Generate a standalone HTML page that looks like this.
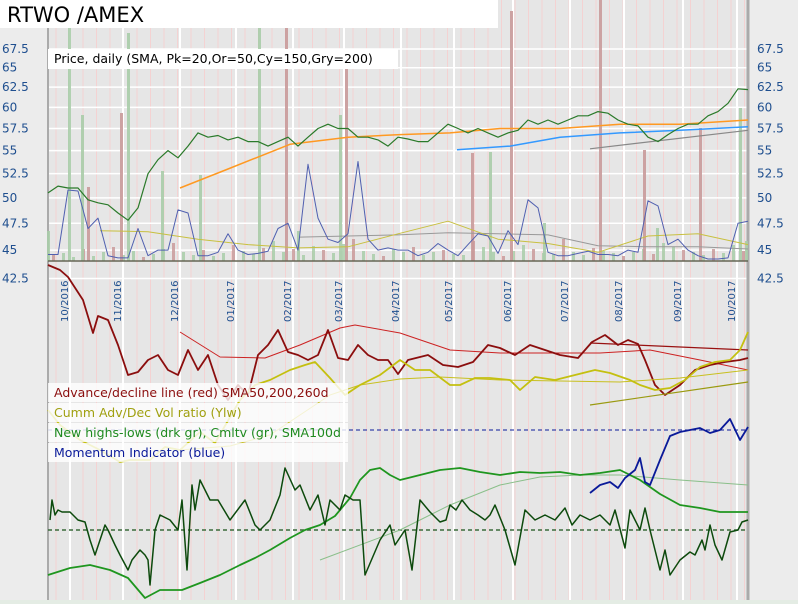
<!DOCTYPE html>
<html><head><meta charset="utf-8"><style>
body{margin:0;width:798px;height:604px;overflow:hidden;background:#ececec;font-family:"DejaVu Sans","Liberation Sans",sans-serif}
svg{display:block}
</style></head><body>
<svg id="c" width="798" height="604" xmlns="http://www.w3.org/2000/svg" font-family="DejaVu Sans, Liberation Sans, sans-serif"></svg>
<script>
// ---- data (t = time units 0..700 across the chart, v = values) ----
const priceTicks=[67.5,65,62.5,60,57.5,55,52.5,50,47.5,45,42.5];
const monthLabels=["10/2016","11/2016","12/2016","01/2017","02/2017","03/2017","04/2017","05/2017","06/2017","07/2017","08/2017","09/2017","10/2017"];
const monthT=[22,75,132,188,245,296,353,406,465,522,576,635,689];
const priceT=[0,10,20,30,40,50,60,70,80,90,100,110,120,130,140,150,160,170,180,190,200,210,220,230,240,250,260,270,280,290,300,310,320,330,340,350,360,370,380,390,400,410,420,430,440,450,460,470,480,490,500,510,520,530,540,550,560,570,580,590,600,610,620,630,640,650,660,670,680,690,700];
const priceV=[50.5,51.2,51,51,49.8,49.5,49.3,48.5,47.8,49,52.5,54,55,54.2,55.5,57,56.5,56.7,56.2,56.5,56,56,55.5,56,56.5,55.5,56.5,57.5,58,57.5,57.5,56.5,56.5,56.2,55.5,56.5,56.3,56,56,57,58,57.5,57,57.5,57,56.5,57,57.3,58.5,58,58.5,58,58.5,59,59,59.5,59.3,58.5,58,57.8,56.5,56,56.8,57.5,58,58,59,59.5,60.5,62.3,62.2];
const sma150T=[132,180,242,300,352,402,452,512,572,632,700];
const sma150V=[51,53,55.7,56.5,56.8,57,57.5,57.5,58,58,58.5];
const sma200T=[409,462,512,572,632,700];
const sma200V=[55.1,55.5,56.5,57,57.3,57.7];
const trendT=[542,700];const trendV=[55.2,57.3];
const momT=[0,10,20,30,40,50,60,70,80,90,100,110,120,130,140,150,160,170,180,190,200,210,220,230,240,250,260,270,280,290,300,310,320,330,340,350,360,370,380,390,400,410,420,430,440,450,460,470,480,490,500,510,520,530,540,550,560,570,580,590,600,610,620,630,640,650,660,670,680,690,700];
const momV=[44.6,44.6,50.8,50.7,47,48,44.5,44.3,44.3,47,44.5,45,45,48.8,48.5,44.5,44.5,44.8,46.5,45,44.6,44.7,44.9,47,47.5,45,53.5,48,46,45.7,46.5,53.8,46,45,45.2,45,45,44.5,44.8,45.6,45,44.5,45.5,46.5,46.3,44.7,46.8,45.5,49.8,49,44.8,44.5,44.5,44.7,44.9,44.6,44.6,44.5,45,44.8,49.7,49.2,45.5,46,45,44.5,44.2,44.2,44.3,47.5,47.7];
const yelT=[52,100,150,200,250,300,350,400,450,500,550,600,650,700];
const yelV=[46.8,46.7,46,45.5,45.2,45.3,46.5,47.7,46,45.6,44.8,46.3,46.5,45.5];
const grayT=[252,300,350,400,450,500,550,600,650,700];
const grayV=[46.2,46.3,46.4,46.6,46.5,46.4,45.4,45.3,45.3,45.1];
const volT=[0,21,34,40,73,80,114,152,211,238,250,292,298,424,442,463,496,552,596,609,652,692,698];
const volH=[30,300,146,74,148,228,90,86,250,300,30,146,200,108,109,250,38,300,111,33,133,153,20];
const volUp=[1,1,1,0,0,1,1,1,1,0,1,1,0,0,1,0,1,0,0,1,0,1,1];
const smallVolH=[6,8,4,12,5,9,14,6,10,4,7,12,18,9,6,11,5,8,16,10,7,13,20,9,12,6,15,11,8,17,22,10,7,5,12,9,14,6,9,11,7,6,20,14,9,5,10,16,12,8,7,22,9,6,13,10,8,5,9,12,7,18,14,11,9,6,12,8,16,10];
const adT=[0,12,20,35,45,50,60,70,80,90,100,110,120,130,140,150,160,170,180,190,200,210,220,230,240,250,260,270,280,290,300,310,320,330,340,350,360,380,395,410,425,440,452,467,482,497,512,530,544,557,570,580,590,597,607,617,632,647,662,677,692,700];
const adV=[335,330,323,300,267,284,280,255,225,228,240,245,230,225,250,230,245,215,200,215,205,245,255,270,248,245,240,245,270,242,240,255,245,240,240,226,240,245,235,233,238,255,252,245,255,250,245,242,258,265,255,260,256,240,215,205,215,230,235,238,240,242];
const adSmaT=[132,172,217,252,292,307,352,402,452,502,552,602,652,700];
const adSmaV=[268,243,242,255,272,275,267,250,247,247,247,250,240,230];
const ad2T=[542,700];const ad2V=[257,250];
const cavT=[0,12,32,52,72,82,102,117,132,152,167,192,207,222,242,257,267,282,297,312,332,352,367,382,402,412,427,442,462,472,487,507,527,547,562,582,592,607,622,637,652,667,682,692,700];
const cavV=[190,175,160,150,138,140,140,153,150,168,157,200,215,220,230,235,238,222,205,215,225,240,230,230,215,215,222,222,220,210,223,220,225,230,227,220,215,210,212,220,233,238,240,250,268];
const cavSmaT=[132,182,222,282,312,352,392,452,512,572,632,700];
const cavSmaV=[150,154,165,205,215,221,223,220,219,218,222,230];
const olivT=[542,700];const olivV=[195,218];
const blueT=[542,552,562,570,577,587,592,597,602,612,622,632,642,652,662,672,682,692,700];
const blueV=[107,115,118,112,122,130,142,118,115,140,164,168,170,172,167,170,181,160,173];
const cumT=[0,22,42,62,80,97,112,134,152,172,192,207,222,242,257,272,287,302,312,322,332,342,352,372,392,412,432,452,472,492,512,532,552,572,592,612,632,652,672,700];
const cumV=[25,32,35,30,22,2,10,10,17,25,35,42,50,62,70,75,84,102,120,130,132,125,120,125,130,132,128,125,128,127,128,125,127,130,120,106,95,92,88,88];
const cumSmaT=[272,352,402,452,492,532,572,632,700];
const cumSmaV=[40,70,95,115,123,125,125,120,115];
const nhlT=[2,4,7,10,14,22,30,37,42,47,52,57,60,67,72,80,84,92,97,100,102,107,112,122,130,134,139,144,147,152,162,170,182,197,207,212,222,232,237,247,252,262,270,277,282,292,297,305,312,317,332,342,347,357,364,372,382,392,398,402,408,414,422,430,437,442,447,457,467,477,487,497,507,517,524,532,542,552,562,567,577,582,587,592,597,602,612,617,622,632,642,647,654,657,662,667,674,682,690,694,700];
const nhlV=[80,100,85,90,88,88,80,78,60,45,60,75,70,55,45,30,40,50,45,40,15,70,85,80,70,100,30,115,90,120,100,100,80,100,75,70,80,105,132,110,115,90,105,75,100,90,105,100,100,25,60,75,55,70,30,100,88,78,80,95,90,100,90,85,80,85,95,70,35,90,80,85,80,92,75,85,80,85,75,90,52,90,80,70,92,70,30,50,25,40,48,45,60,50,75,55,40,68,70,78,80];

const svg=document.getElementById('c');
const NS='http://www.w3.org/2000/svg';
function el(tag,attrs,parent){const e=document.createElementNS(NS,tag);for(const k in attrs)e.setAttribute(k,attrs[k]);(parent||svg).appendChild(e);return e;}
const X0=48,X1=748;
const xS=t=>X0+t;
const yP=p=>49+(Math.log(67.5)-Math.log(p))*496;
const yL=v=>600-v;
function line(ts,vs,ys,stroke,w,name,extra){
  const d=ts.map((t,i)=>(i?'L':'M')+xS(t).toFixed(1)+','+ys(vs[i]).toFixed(1)).join('');
  const p=el('path',Object.assign({d:d,fill:'none',stroke:stroke,'stroke-width':w,'stroke-linejoin':'round'},extra||{}));
  
  
  return p;
}
const bg=el('rect',{x:X0,y:0,width:700,height:600,fill:'#e6e6e6'});


el('rect',{x:0,y:600,width:798,height:4,fill:'#e4ece4'});
for(let t=8;t<700;t+=13.5){const l=el('line',{x1:xS(t),x2:xS(t),y1:0,y2:600,stroke:'#f4d2d2','stroke-width':1});
}
monthT.forEach(t=>{const l=el('line',{x1:xS(t),x2:xS(t),y1:0,y2:600,stroke:'#ffffff','stroke-width':2});
});
priceTicks.forEach(p=>{const y=yP(p);
 const g=el('line',{x1:X0,x2:X1,y1:y,y2:y,stroke:'#ffffff','stroke-width':1.5});
 
 const a=el('text',{x:2,y:y+4,'font-size':12,fill:'#1f4f8f'});a.textContent=p;
 
 const b=el('text',{x:757,y:y+4,'font-size':12,fill:'#1f4f8f'});b.textContent=p;
 
});
el('line',{x1:X0,x2:X0,y1:28,y2:600,stroke:'#aaaaaa','stroke-width':2});
el('line',{x1:X1,x2:X1,y1:0,y2:600,stroke:'#aaaaaa','stroke-width':3});
smallVolH.forEach((h,i)=>{const t=i*10+4;const r=el('rect',{x:xS(t),y:261-h,width:3,height:h,fill:(i%3==0?'#c99a9a':'#a8cca8'),opacity:0.85});
 });
volT.forEach((t,i)=>{const h=volH[i];const r=el('rect',{x:xS(t)-1,y:261-h,width:3,height:h,fill:volUp[i]?'#a8cca8':'#c99a9a',opacity:0.9});
 });
el('line',{x1:X0,x2:X1,y1:261,y2:261,stroke:'#666655','stroke-width':1.5});
line(grayT,grayV,yP,'#999999',1,'sma-gray-volume');
line(yelT,yelV,yP,'#c8c040',1,'volume-avg-yellow');
line(momT,momV,yP,'#5060b0',1,'volume-blue-line');
line(trendT,trendV,yP,'#888888',1.2,'price-trendline');
line(sma150T,sma150V,yP,'#ff9922',1.5,'sma150-line');
line(sma200T,sma200V,yP,'#3399ff',1.5,'sma200-line');
line(priceT,priceV,yP,'#2a7a2a',1.2,'price-line');
monthLabels.forEach((m,i)=>{const x=xS(monthT[i])-2;const tx=el('text',{x:0,y:0,'font-size':10,fill:'#1f4f8f',transform:`translate(${x},${322}) rotate(-90)`});
 tx.textContent=m;});
line([0,700],[170,170],yL,'#0a1a99',1,'momentum-zero-line',{'stroke-dasharray':'4,3'});
line([0,700],[70,70],yL,'#3a6a3a',1.5,'highs-lows-zero-line',{'stroke-dasharray':'4,3'});
line(adSmaT,adSmaV,yL,'#cc2222',1,'ad-sma-line');
line(ad2T,ad2V,yL,'#991111',1.2,'ad-sma-long-line');
line(adT,adV,yL,'#8b0e0e',1.8,'advance-decline-line');
line(cavSmaT,cavSmaV,yL,'#c8c020',1,'cumm-vol-sma-line');
line(olivT,olivV,yL,'#9a9a10',1.2,'cumm-vol-trend-line');
line(cavT,cavV,yL,'#c4c010',1.8,'cumm-adv-dec-vol-line');
line(cumSmaT,cumSmaV,yL,'#8abf8a',1,'highs-lows-sma100');
line(cumT,cumV,yL,'#1f961f',1.8,'highs-lows-cumulative');
line(nhlT,nhlV,yL,'#0d4a0d',1.5,'new-highs-lows-line');
line(blueT,blueV,yL,'#0a1a99',1.8,'momentum-indicator-line');
const tb=el('rect',{x:0,y:0,width:498,height:28,fill:'#ffffff'});

const tt=el('text',{x:7,y:22,'font-size':21,fill:'#000'});tt.textContent='RTWO /AMEX';

const pb=el('rect',{x:48,y:49,width:350,height:20,fill:'#ffffff'});

const pt=el('text',{x:54,y:63,'font-size':12.5,fill:'#000'});pt.textContent='Price, daily (SMA, Pk=20,Or=50,Cy=150,Gry=200)';

const leg=[['Advance/decline line (red) SMA50,200,260d','#8b0e0e'],['Cumm Adv/Dec Vol ratio (Ylw)','#a0a010'],['New highs-lows (drk gr), Cmltv (gr), SMA100d','#1f8a1f'],['Momentum Indicator (blue)','#0a1a99']];
leg.forEach((l,i)=>{const r=el('rect',{x:48,y:383+i*20,width:300,height:19,fill:'#ffffff','fill-opacity':0.8});
 
 const t=el('text',{x:54,y:397+i*20,'font-size':12.5,fill:l[1]});t.textContent=l[0];
 });
</script>
</body></html>
